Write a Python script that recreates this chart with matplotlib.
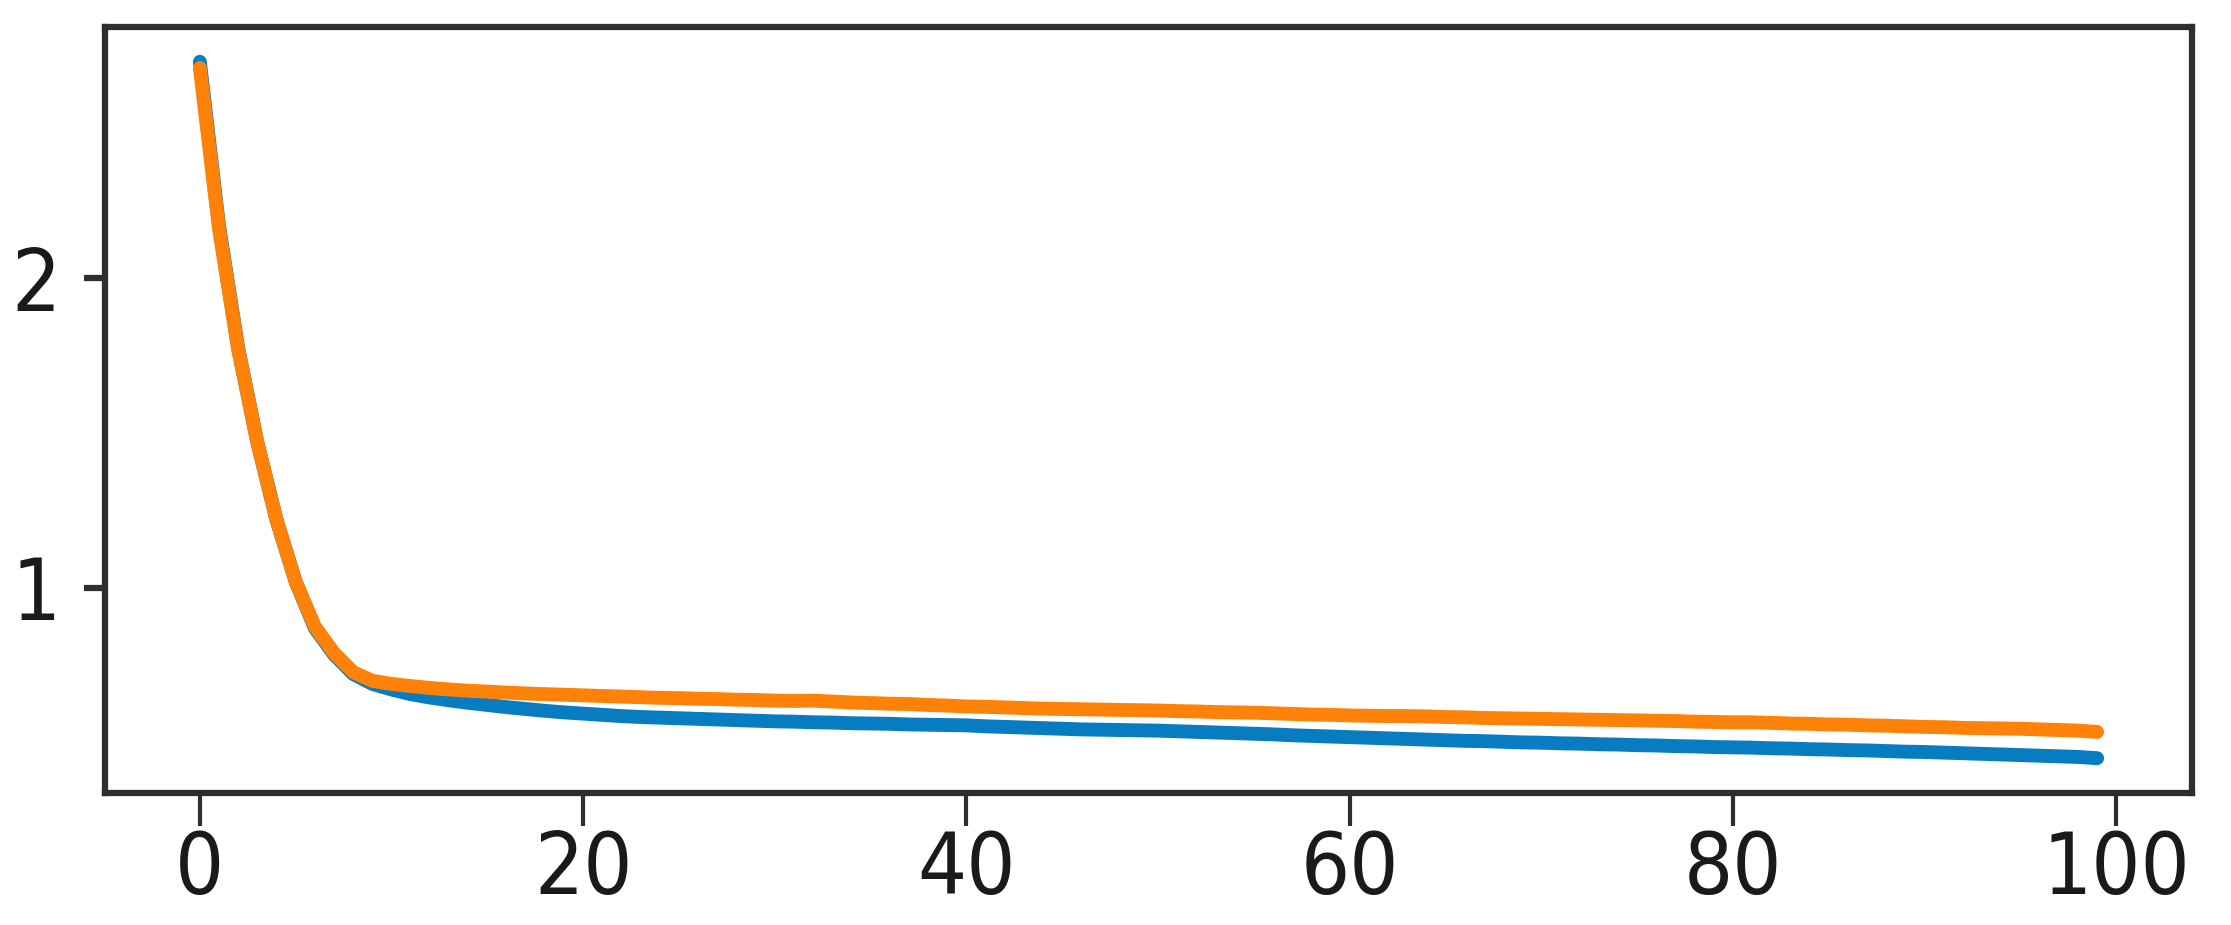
import matplotlib
matplotlib.use('Agg')
import matplotlib.pyplot as plt

# loss values per epoch
epochs = list(range(100))

train_loss = [2.70, 2.17, 1.775, 1.47, 1.22, 1.02, 0.87, 0.785, 0.722, 0.690,
              0.672, 0.657, 0.646, 0.637, 0.629, 0.622, 0.615, 0.609, 0.603, 0.598,
              0.594, 0.590, 0.586, 0.583, 0.581, 0.579, 0.577, 0.575, 0.573, 0.571,
              0.569, 0.568, 0.566, 0.565, 0.563, 0.562, 0.561, 0.559, 0.558, 0.557,
              0.556, 0.553, 0.551, 0.549, 0.547, 0.545, 0.543, 0.542, 0.541, 0.540,
              0.539, 0.537, 0.535, 0.533, 0.531, 0.529, 0.527, 0.524, 0.522, 0.520,
              0.518, 0.516, 0.514, 0.512, 0.510, 0.508, 0.506, 0.505, 0.503, 0.501,
              0.500, 0.498, 0.497, 0.495, 0.494, 0.492, 0.491, 0.489, 0.488, 0.486,
              0.485, 0.484, 0.482, 0.481, 0.479, 0.478, 0.476, 0.475, 0.473, 0.471,
              0.470, 0.468, 0.466, 0.464, 0.462, 0.460, 0.458, 0.456, 0.454, 0.450]

val_loss = [2.68, 2.16, 1.77, 1.47, 1.22, 1.02, 0.875, 0.790, 0.728, 0.700,
            0.690, 0.683, 0.677, 0.672, 0.668, 0.665, 0.662, 0.659, 0.657, 0.655,
            0.653, 0.651, 0.649, 0.647, 0.645, 0.644, 0.642, 0.641, 0.639, 0.638,
            0.636, 0.635, 0.636, 0.633, 0.630, 0.628, 0.626, 0.625, 0.622, 0.620,
            0.617, 0.616, 0.614, 0.612, 0.610, 0.609, 0.608, 0.607, 0.606, 0.605,
            0.604, 0.602, 0.601, 0.599, 0.598, 0.597, 0.595, 0.593, 0.591, 0.590,
            0.588, 0.587, 0.586, 0.586, 0.585, 0.583, 0.582, 0.580, 0.579, 0.578,
            0.577, 0.576, 0.575, 0.574, 0.573, 0.572, 0.571, 0.570, 0.568, 0.567,
            0.566, 0.566, 0.564, 0.562, 0.561, 0.559, 0.558, 0.556, 0.555, 0.553,
            0.551, 0.550, 0.548, 0.547, 0.546, 0.545, 0.543, 0.541, 0.539, 0.535]

xticks = [0, 20, 40, 60, 80, 100]
yticks = [1, 2]

fig = plt.figure(figsize=(22.31, 9.25), dpi=100)
ax = fig.add_axes([105/2231, 1-793/925, (2192-105)/2231, (793-27)/925])

ax.plot(epochs, train_loss, color='#077cc0', lw=10, solid_capstyle='round')
ax.plot(epochs, val_loss, color='#ff8208', lw=10, solid_capstyle='round')

ax.set_xticks(xticks)
ax.set_yticks(yticks)

for s in ax.spines.values():
    s.set_linewidth(4.5)
    s.set_color('#2e2e2e')

ax.tick_params(axis='x', length=24, width=3, pad=2, color='#2e2e2e')
ax.tick_params(axis='y', length=15, width=4.5, pad=17, color='#2e2e2e')
for lab in ax.get_xticklabels() + ax.get_yticklabels():
    lab.set_fontfamily('DejaVu Sans')
    lab.set_fontstretch('condensed')
    lab.set_fontsize(62)
    lab.set_color('#1a1a1a')

fig.savefig('out.png', dpi=100)
